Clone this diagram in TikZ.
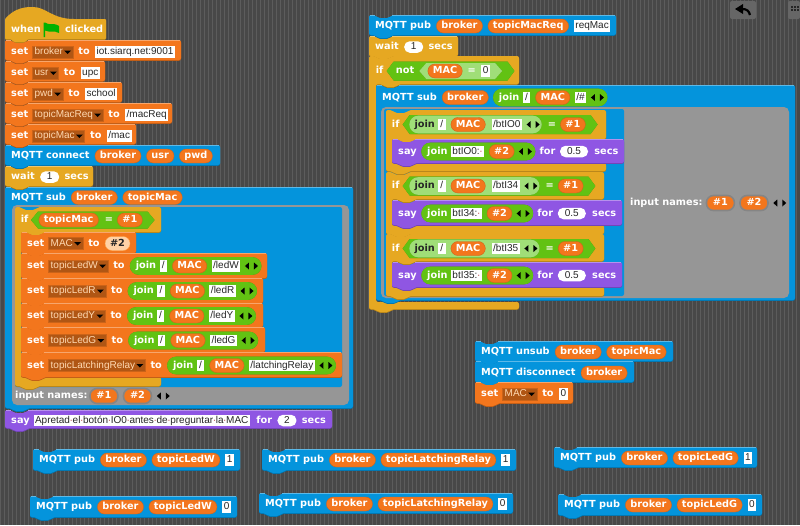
\documentclass[tikz,border=0pt]{standalone}
\usepackage{fontspec}
\setmainfont{DejaVu Sans}
\newfontfamily\fieldfont{Liberation Sans}
\usetikzlibrary{positioning,calc}
\pgfdeclarelayer{blocks}
\pgfdeclarelayer{lvla}
\pgfdeclarelayer{lvlb}
\pgfsetlayers{blocks,lvla,lvlb,main}

\definecolor{varorange}{RGB}{243,118,29}
\definecolor{sensblue}{RGB}{4,148,220}
\definecolor{ctrlgold}{RGB}{230,168,34}
\definecolor{lookspurple}{RGB}{143,86,227}
\definecolor{opgreen}{RGB}{98,194,19}
\definecolor{lightgreen}{RGB}{160,222,120}
\definecolor{ringgray}{RGB}{150,150,150}
\definecolor{bggray}{RGB}{72,72,72}
\definecolor{dropfill}{RGB}{176,86,20}

\tikzset{
  kwtext/.style={inner sep=0pt, text=white, font=\bfseries\fontsize{9.75}{10}\selectfont, text height=7.2pt, text depth=2pt},
  pilltext/.style={kwtext, fill=varorange, draw=varorange!85!black, line width=.4pt, inner xsep=5pt, minimum height=14pt, rounded corners=7pt},
  fieldtext/.style={inner sep=0pt, inner xsep=1.5pt, fill=white, text=black!85, font=\fieldfont\fontsize{10}{10}\selectfont, text height=7.4pt, text depth=2.1pt, minimum height=11.5pt},
  droptext/.style={fieldtext, fill=dropfill, draw=dropfill!60!varorange, line width=.4pt, inner xsep=0pt, text=orange!30!white, minimum height=12.3pt},
  slottext/.style={fieldtext, rounded corners=5.5pt, minimum height=11.5pt},
  zeronode/.style={inner sep=0pt, outer sep=0pt, minimum size=0pt}
}

% Blocks on their own layer
\newcommand{\blockpath}[4]{(#1,#3) -- (#1+6,#3) -- ++(3,3) -- ++(11,0) -- ++(3,-3) -- (#2,#3) -- (#2,#4) -- (#1+23,#4) -- ++(-3,3) -- ++(-11,0) -- ++(-3,-3) -- (#1,#4) -- cycle}
\newcommand{\block}[5]{\begin{pgfonlayer}{blocks}
  \fill[#1!78!black, rounded corners=2pt, yshift=-.8pt] \blockpath{#2}{#3}{#4}{#5};
  \fill[#1, rounded corners=2pt] \blockpath{#2}{#3}{#4}{#5};
  \draw[#1!65!white, line width=.5pt] (#2+1,#4+.4) -- ++(5,0) (#2+23,#4+.4) -- (#3-1,#4+.4);
\end{pgfonlayer}}
% color, x1, xarm, x2, y1, yhead, ybar, y2
\newcommand{\cblockpath}[7]{(#1,#4) -- (#1+6,#4) -- ++(3,3) -- ++(11,0) -- ++(3,-3) -- (#3,#4) -- (#3,#5) -- (#2+23,#5) -- ++(-3,3) -- ++(-11,0) -- ++(-3,-3) -- (#2,#5) -- (#2,#6) -- (#3,#6) -- (#3,#7) -- (#1+23,#7) -- ++(-3,3) -- ++(-11,0) -- ++(-3,-3) -- (#1,#7) -- cycle}
\newcommand{\cblock}[8]{\begin{pgfonlayer}{blocks}
  \fill[#1!78!black, rounded corners=2pt, yshift=-.8pt] \cblockpath{#2}{#3}{#4}{#5}{#6}{#7}{#8};
  \fill[#1, rounded corners=2pt] \cblockpath{#2}{#3}{#4}{#5}{#6}{#7}{#8};
\end{pgfonlayer}}
% ring of a block with a script slot
\newcommand{\ring}[8]{\begin{pgfonlayer}{blocks}
  \fill[ringgray, rounded corners=5pt] (#1,#3) rectangle (#2,#4);
  \fill[sensblue, rounded corners=2pt] (#5,#7) rectangle (#6,#8);
\end{pgfonlayer}}

% Row items, each one right of the last
\newcommand{\row}[2]{\coordinate (prev) at (#1,#2);}
\newcommand{\kw}[2][5pt]{\node[kwtext, right=#1 of prev] (prev) {#2};}
\newcommand{\kwdark}[2][5pt]{\node[kwtext, text=black!85, right=#1 of prev] (prev) {#2};}
\newcommand{\varpill}[2][5pt]{\node[pilltext, right=#1 of prev] (prev) {#2};}
\newcommand{\peachpill}[2][5pt]{\node[pilltext, fill=orange!35!white, draw=orange!70!white, text=black!85, right=#1 of prev] (prev) {#2};}
\newcommand{\ringpill}[2][4pt]{\node[pilltext, draw=black!48, line width=1.6pt, inner xsep=6.5pt, minimum height=15pt, right=#1 of prev] (prev) {#2};}
\newcommand{\field}[2][5pt]{\node[fieldtext, minimum width=7.5pt, right=#1 of prev] (prev) {#2};}
\newcommand{\slotfield}[3][5pt]{\node[slottext, minimum width=#2, right=#1 of prev] (prev) {#3};}
\newcommand{\dropb}[2][4pt]{\node[droptext, right=#1 of prev] (prev) {\kern2pt#2\kern10pt};
  \fill[black] (prev.east) ++(-9,-1.5) -- ++(7,0) -- ++(-3.5,3.5) -- cycle;}
\newcommand{\arrowpair}[1][4.5pt]{\node[zeronode, minimum width=13pt, right=#1 of prev] (prev) {};
  \fill[black] (prev.center) ++(-2.5,-3.5) -- ++(0,7) -- ++(-4,-3.5) -- cycle;
  \fill[black] (prev.center) ++(2.5,-3.5) -- ++(0,7) -- ++(4,-3.5) -- cycle;}
\newcommand{\opengrp}[2][5pt]{\node[zeronode, right=#1 of prev] (prev) {}; \coordinate (#2) at (prev.center);}
% gap, start, layer, color
\newcommand{\closepill}[4][3.5pt]{\node[zeronode, right=#1 of prev] (prev) {};
  \begin{pgfonlayer}{#3}
  \fill[#4!72!black, rounded corners=8.8pt, yshift=-.7pt] ($(#2)+(0,-8.8)$) rectangle ($(prev.center)+(0,8.8)$);
  \fill[#4, rounded corners=8.8pt] ($(#2)+(0,-8.8)$) rectangle ($(prev.center)+(0,8.8)$);
  \end{pgfonlayer}}
% gap, start, layer, color, half height
\newcommand{\hexpath}[2]{(#1) -- ++(7,-#2) -- ($(prev.center)+(-7,-#2)$) -- (prev.center) -- ($(prev.center)+(-7,#2)$) -- ($(#1)+(7,#2)$) -- cycle}
\newcommand{\closehex}[5][12pt]{\node[zeronode, right=#1 of prev] (prev) {};
  \begin{pgfonlayer}{#3}
  \fill[#4!72!black, yshift=-.8pt] \hexpath{#2}{#5};
  \fill[#4] \hexpath{#2}{#5};
  \end{pgfonlayer}}
\newcommand{\spc}{\kern-.35pt\textcolor{red!45!gray}{·}\kern-.35pt}

\begin{document}
\begin{tikzpicture}[x=1pt,y=-1pt]
  \useasboundingbox (0,0) rectangle (800,525);

  % Draw striped scripting area
  \begin{pgfonlayer}{blocks}
  \fill[bggray] (0,0) rectangle (800,525);
  \foreach \sx in {0,4,...,800} {
    \draw[black!64, line width=1pt] (\sx,0) -- (\sx,525);
  }
  \end{pgfonlayer}

  % Draw undo button and the next icon
  \fill[black!60, rounded corners=2pt] (730,1) rectangle (756,19);
  \fill[black!60, rounded corners=2pt] (788,1) rectangle (800,19);
  \fill[black] (735,9) -- (743,4) -- (743,14) -- cycle;
  \draw[black, line width=2.2pt] (742,9) .. controls (747,9) and (749,11) .. (750,15);
  \foreach \kx in {791,794,797} {
    \fill[black!85] (\kx,6) rectangle ++(2,2);
    \fill[black!85] (\kx,9) rectangle ++(2,2);
  }

  % Draw hat block and flag
  \begin{pgfonlayer}{blocks}
  \fill[ctrlgold!78!black, rounded corners=1pt, yshift=-.8pt] (5,19) .. controls (13,10) and (22,7) .. (32,7) .. controls (46,7) and (52,19) .. (75,19) -- (106,19) -- (106,39) -- (28,39) -- ++(-3,3) -- ++(-11,0) -- ++(-3,-3) -- (5,39) -- cycle;
  \fill[ctrlgold, rounded corners=1pt] (5,19) .. controls (13,10) and (22,7) .. (32,7) .. controls (46,7) and (52,19) .. (75,19) -- (106,19) -- (106,39) -- (28,39) -- ++(-3,3) -- ++(-11,0) -- ++(-3,-3) -- (5,39) -- cycle;
  \end{pgfonlayer}
  \fill[green!70!black] (43.5,22.5) -- (45,22.5) .. controls (49,26) and (53,22) .. (59,26) -- (59,33) .. controls (54,30) and (50,33) .. (45,30.5) -- (45,37) -- (43.5,37) -- cycle;
  \row{6}{30}\kw{when}\kw[24pt]{clicked}

  % Draw left script
  \block{varorange}{5}{181}{40}{60}\row{6}{52}\kw{set}\dropb{broker}\kw{to}\field{iot.siarq.net:9001}
  \block{varorange}{5}{105}{61}{81}\row{6}{73}\kw{set}\dropb{usr}\kw{to}\field{upc}
  \block{varorange}{5}{122}{82}{102}\row{6}{94}\kw{set}\dropb{pwd}\kw{to}\field{school}
  \block{varorange}{5}{172}{103}{123}\row{6}{115}\kw{set}\dropb{topicMacReq}\kw{to}\field{/macReq}
  \block{varorange}{5}{136}{124}{144}\row{6}{136}\kw{set}\dropb{topicMac}\kw{to}\field{/mac}
  \block{sensblue}{5}{220}{145}{165}\row{6}{156}\kw{MQTT connect}\varpill{broker}\varpill{usr}\varpill{pwd}
  \block{ctrlgold}{5}{93}{166}{186}\row{6}{177}\kw{wait}\slotfield{19pt}{1}\kw{secs}
  \block{sensblue}{5}{353}{187}{408}\row{6}{197.5}\kw{MQTT sub}\varpill{broker}\varpill{topicMac}
  \ring{12}{349}{205}{405}{15}{342}{207}{387}
  \cblock{ctrlgold}{15}{21}{161}{207}{232}{377}{386}
  \row{15}{220}\kw[5.7pt]{if}\opengrp[2.4pt]{hexa}\varpill[7.6pt]{topicMac}\kw[6pt]{=}\varpill[4pt]{\#1}\closehex{hexa}{lvla}{opgreen}{8.5}
  \block{varorange}{21}{136}{232}{253}\row{22}{243.5}\kw{set}\dropb{MAC}\kw{to}\peachpill{\#2}
  \block{varorange}{21}{267}{253}{278}\row{22}{266}\kw{set}\dropb{topicLedW}\kw{to}\opengrp{ja}\kw[5.7pt]{join}\field[3pt]{/}\varpill{MAC}\field[4.5pt]{/ledW}\arrowpair\closepill{ja}{lvla}{opgreen}
  \block{varorange}{21}{263}{278}{303}\row{22}{291}\kw{set}\dropb{topicLedR}\kw{to}\opengrp{jb}\kw[5.7pt]{join}\field[3pt]{/}\varpill{MAC}\field[4.5pt]{/ledR}\arrowpair\closepill{jb}{lvla}{opgreen}
  \block{varorange}{21}{263}{303}{327}\row{22}{316}\kw{set}\dropb{topicLedY}\kw{to}\opengrp{jc}\kw[5.7pt]{join}\field[3pt]{/}\varpill{MAC}\field[4.5pt]{/ledY}\arrowpair\closepill{jc}{lvla}{opgreen}
  \block{varorange}{21}{265}{327}{352}\row{22}{340.5}\kw{set}\dropb{topicLedG}\kw{to}\opengrp{jd}\kw[5.7pt]{join}\field[3pt]{/}\varpill{MAC}\field[4.5pt]{/ledG}\arrowpair\closepill{jd}{lvla}{opgreen}
  \block{varorange}{21}{342}{352}{377}\row{22}{365.5}\kw{set}\dropb{topicLatchingRelay}\kw{to}\opengrp{je}\kw[5.7pt]{join}\field[3pt]{/}\varpill{MAC}\field[4.5pt]{/latchingRelay}\arrowpair\closepill{je}{lvla}{opgreen}
  \row{10}{396}\kw{input names:}\ringpill[1.5pt]{\#1}\ringpill{\#2}\arrowpair
  \block{lookspurple}{5}{332}{410}{428}\row{6}{420.5}\kw{say}\field[3.5pt]{Apretad\spc el\spc botón\spc IO0\spc antes\spc de\spc preguntar\spc la\spc MAC}\kw[6pt]{for}\slotfield{19pt}{2}\kw{secs}

  % Draw right script
  \block{sensblue}{369}{616}{15}{35}\row{370}{26}\kw{MQTT pub}\varpill{broker}\varpill{topicMacReq}\field{reqMac}
  \block{ctrlgold}{369}{458}{36}{56}\row{370}{47}\kw{wait}\slotfield{19pt}{1}\kw{secs}
  \cblock{ctrlgold}{369}{376}{519}{56}{84}{302}{309}
  \row{370}{71}\kw[5.7pt]{if}\opengrp[3pt]{hexb}\kw[9pt]{not}\opengrp{hexc}\varpill[8.3pt]{MAC}\kw{=}\field{0}\closehex{hexc}{lvlb}{lightgreen}{8}\closehex[12.4pt]{hexb}{lvla}{opgreen}{9.5}
  \block{sensblue}{376}{795}{85}{300}\row{377}{97.5}\kw{MQTT sub}\varpill{broker}\opengrp[4.5pt]{jf}\kw[5.7pt]{join}\field[3pt]{/}\varpill{MAC}\field[4.5pt]{/\#}\arrowpair\closepill{jf}{lvla}{opgreen}
  \ring{381}{789}{107}{298}{384}{624}{109}{296}
  % first if
  \cblock{ctrlgold}{386}{392}{606}{110}{139}{163}{171}
  \row{386}{124.5}\kw[5.7pt]{if}\opengrp[3pt]{hexd}\opengrp[6.7pt]{jg}\kwdark{join}\field[2.7pt]{/}\varpill{MAC}\field[6pt]{/btIO0}\arrowpair\closepill[2pt]{jg}{lvlb}{lightgreen}\kw[6pt]{=}\varpill[4pt]{\#1}\closehex{hexd}{lvla}{opgreen}{9.5}
  \block{lookspurple}{392}{624}{139}{163}\row{393}{151.5}\kw{say}\opengrp[4.5pt]{jh}\kw[5.7pt]{join}\field[3pt]{btIO0:\spc}\varpill{\#2}\arrowpair\closepill{jh}{lvla}{opgreen}\kw[4pt]{for}\slotfield[4.3pt]{28pt}{0.5}\kw[6pt]{secs}
  % second if
  \cblock{ctrlgold}{386}{392}{604}{172}{199}{225}{234}
  \row{386}{186}\kw[5.7pt]{if}\opengrp[3pt]{hexe}\opengrp[6.7pt]{ji}\kwdark{join}\field[2.7pt]{/}\varpill{MAC}\field[6pt]{/btI34}\arrowpair\closepill[2pt]{ji}{lvlb}{lightgreen}\kw[6pt]{=}\varpill[4pt]{\#1}\closehex{hexe}{lvla}{opgreen}{9.5}
  \block{lookspurple}{392}{622}{200}{225}\row{393}{213.5}\kw{say}\opengrp[4.5pt]{jj}\kw[5.7pt]{join}\field[3pt]{btI34:\spc}\varpill{\#2}\arrowpair\closepill{jj}{lvla}{opgreen}\kw[4pt]{for}\slotfield[4.3pt]{28pt}{0.5}\kw[6pt]{secs}
  % third if
  \cblock{ctrlgold}{386}{392}{604}{234}{261}{287}{296}
  \row{386}{248.5}\kw[5.7pt]{if}\opengrp[3pt]{hexf}\opengrp[6.7pt]{jk}\kwdark{join}\field[2.7pt]{/}\varpill{MAC}\field[6pt]{/btI35}\arrowpair\closepill[2pt]{jk}{lvlb}{lightgreen}\kw[6pt]{=}\varpill[4pt]{\#1}\closehex{hexf}{lvla}{opgreen}{9.5}
  \block{lookspurple}{392}{622}{262}{287}\row{393}{275.5}\kw{say}\opengrp[4.5pt]{jl}\kw[5.7pt]{join}\field[3pt]{btI35:\spc}\varpill{\#2}\arrowpair\closepill{jl}{lvla}{opgreen}\kw[4pt]{for}\slotfield[4.3pt]{28pt}{0.5}\kw[6pt]{secs}
  \row{625}{203}\kw{input names:}\ringpill[3pt]{\#1}\ringpill{\#2}\arrowpair

  % Draw loose blocks
  \block{sensblue}{475}{673}{341}{361}\row{476}{352}\kw{MQTT unsub}\varpill{broker}\varpill{topicMac}
  \block{sensblue}{475}{634}{361}{382}\row{476}{373}\kw{MQTT disconnect}\varpill{broker}
  \block{varorange}{475}{573}{382}{403}\row{476}{394}\kw{set}\dropb{MAC}\kw{to}\field{0}

  \block{sensblue}{33}{240}{449}{470}\row{34}{460}\kw{MQTT pub}\varpill{broker}\varpill{topicLedW}\field{1}
  \block{sensblue}{30}{237}{496}{517}\row{31}{507}\kw{MQTT pub}\varpill{broker}\varpill{topicLedW}\field{0}
  \block{sensblue}{262}{516}{449}{470}\row{263}{460}\kw{MQTT pub}\varpill{broker}\varpill{topicLatchingRelay}\field{1}
  \block{sensblue}{259}{513}{493}{513}\row{260}{504}\kw{MQTT pub}\varpill{broker}\varpill{topicLatchingRelay}\field{0}
  \block{sensblue}{554}{757}{447}{467}\row{555}{458}\kw{MQTT pub}\varpill{broker}\varpill{topicLedG}\field{1}
  \block{sensblue}{558}{762}{494}{515}\row{559}{505}\kw{MQTT pub}\varpill{broker}\varpill{topicLedG}\field{0}
\end{tikzpicture}
\end{document}
